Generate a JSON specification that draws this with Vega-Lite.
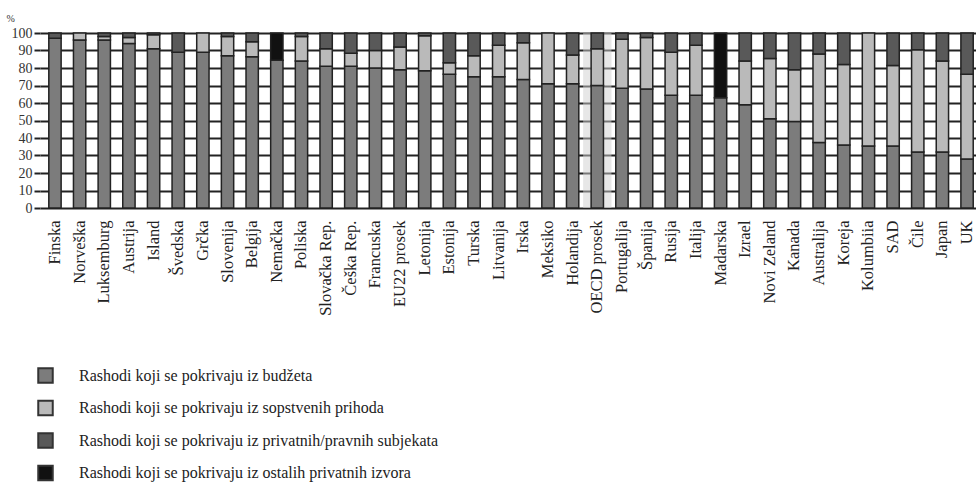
{
  "$schema": "https://vega.github.io/schema/vega-lite/v6.json",
  "autosize": {"type": "none"},
  "padding": {"left": 40, "top": 33, "right": 0, "bottom": 277},
  "width": 936,
  "height": 175,
  "background": "white",
  "config": {
    "view": {"stroke": null},
    "font": "Liberation Serif",
    "axis": {"labelFont": "Liberation Serif", "titleFont": "Liberation Serif"},
    "legend": {"labelFont": "Liberation Serif"}
  },
  "data": {
    "values": [
      {"z": "Finska", "k": "Rashodi koji se pokrivaju iz budžeta", "r": 1, "v": 97},
      {"z": "Finska", "k": "Rashodi koji se pokrivaju iz privatnih/pravnih  subjekata", "r": 3, "v": 3},
      {"z": "Norveška", "k": "Rashodi koji se pokrivaju iz budžeta", "r": 1, "v": 96},
      {"z": "Norveška", "k": "Rashodi koji se pokrivaju iz sopstvenih prihoda", "r": 2, "v": 4},
      {"z": "Luksemburg", "k": "Rashodi koji se pokrivaju iz budžeta", "r": 1, "v": 96},
      {"z": "Luksemburg", "k": "Rashodi koji se pokrivaju iz sopstvenih prihoda", "r": 2, "v": 2},
      {"z": "Luksemburg", "k": "Rashodi koji se pokrivaju iz privatnih/pravnih  subjekata", "r": 3, "v": 2},
      {"z": "Austrija", "k": "Rashodi koji se pokrivaju iz budžeta", "r": 1, "v": 94},
      {"z": "Austrija", "k": "Rashodi koji se pokrivaju iz sopstvenih prihoda", "r": 2, "v": 3.5},
      {"z": "Austrija", "k": "Rashodi koji se pokrivaju iz privatnih/pravnih  subjekata", "r": 3, "v": 2.5},
      {"z": "Island", "k": "Rashodi koji se pokrivaju iz budžeta", "r": 1, "v": 91},
      {"z": "Island", "k": "Rashodi koji se pokrivaju iz sopstvenih prihoda", "r": 2, "v": 8},
      {"z": "Island", "k": "Rashodi koji se pokrivaju iz privatnih/pravnih  subjekata", "r": 3, "v": 1},
      {"z": "Švedska", "k": "Rashodi koji se pokrivaju iz budžeta", "r": 1, "v": 89},
      {"z": "Švedska", "k": "Rashodi koji se pokrivaju iz privatnih/pravnih  subjekata", "r": 3, "v": 11},
      {"z": "Grčka", "k": "Rashodi koji se pokrivaju iz budžeta", "r": 1, "v": 89},
      {"z": "Grčka", "k": "Rashodi koji se pokrivaju iz sopstvenih prihoda", "r": 2, "v": 11},
      {"z": "Slovenija", "k": "Rashodi koji se pokrivaju iz budžeta", "r": 1, "v": 87},
      {"z": "Slovenija", "k": "Rashodi koji se pokrivaju iz sopstvenih prihoda", "r": 2, "v": 11},
      {"z": "Slovenija", "k": "Rashodi koji se pokrivaju iz privatnih/pravnih  subjekata", "r": 3, "v": 2},
      {"z": "Belgija", "k": "Rashodi koji se pokrivaju iz budžeta", "r": 1, "v": 86.5},
      {"z": "Belgija", "k": "Rashodi koji se pokrivaju iz sopstvenih prihoda", "r": 2, "v": 8.5},
      {"z": "Belgija", "k": "Rashodi koji se pokrivaju iz privatnih/pravnih  subjekata", "r": 3, "v": 5},
      {"z": "Nemačka", "k": "Rashodi koji se pokrivaju iz budžeta", "r": 1, "v": 84.5},
      {"z": "Nemačka", "k": "Rashodi koji se pokrivaju iz ostalih privatnih izvora", "r": 4, "v": 15.5},
      {"z": "Poliska", "k": "Rashodi koji se pokrivaju iz budžeta", "r": 1, "v": 84},
      {"z": "Poliska", "k": "Rashodi koji se pokrivaju iz sopstvenih prihoda", "r": 2, "v": 14},
      {"z": "Poliska", "k": "Rashodi koji se pokrivaju iz privatnih/pravnih  subjekata", "r": 3, "v": 2},
      {"z": "Slovačka Rep.", "k": "Rashodi koji se pokrivaju iz budžeta", "r": 1, "v": 81},
      {"z": "Slovačka Rep.", "k": "Rashodi koji se pokrivaju iz sopstvenih prihoda", "r": 2, "v": 10},
      {"z": "Slovačka Rep.", "k": "Rashodi koji se pokrivaju iz privatnih/pravnih  subjekata", "r": 3, "v": 9},
      {"z": "Češka Rep.", "k": "Rashodi koji se pokrivaju iz budžeta", "r": 1, "v": 81},
      {"z": "Češka Rep.", "k": "Rashodi koji se pokrivaju iz sopstvenih prihoda", "r": 2, "v": 7.5},
      {"z": "Češka Rep.", "k": "Rashodi koji se pokrivaju iz privatnih/pravnih  subjekata", "r": 3, "v": 11.5},
      {"z": "Francuska", "k": "Rashodi koji se pokrivaju iz budžeta", "r": 1, "v": 80},
      {"z": "Francuska", "k": "Rashodi koji se pokrivaju iz sopstvenih prihoda", "r": 2, "v": 10},
      {"z": "Francuska", "k": "Rashodi koji se pokrivaju iz privatnih/pravnih  subjekata", "r": 3, "v": 10},
      {"z": "EU22 prosek", "k": "Rashodi koji se pokrivaju iz budžeta", "r": 1, "v": 79},
      {"z": "EU22 prosek", "k": "Rashodi koji se pokrivaju iz sopstvenih prihoda", "r": 2, "v": 13},
      {"z": "EU22 prosek", "k": "Rashodi koji se pokrivaju iz privatnih/pravnih  subjekata", "r": 3, "v": 8},
      {"z": "Letonija", "k": "Rashodi koji se pokrivaju iz budžeta", "r": 1, "v": 78.5},
      {"z": "Letonija", "k": "Rashodi koji se pokrivaju iz sopstvenih prihoda", "r": 2, "v": 20},
      {"z": "Letonija", "k": "Rashodi koji se pokrivaju iz privatnih/pravnih  subjekata", "r": 3, "v": 1.5},
      {"z": "Estonija", "k": "Rashodi koji se pokrivaju iz budžeta", "r": 1, "v": 76.5},
      {"z": "Estonija", "k": "Rashodi koji se pokrivaju iz sopstvenih prihoda", "r": 2, "v": 6.5},
      {"z": "Estonija", "k": "Rashodi koji se pokrivaju iz privatnih/pravnih  subjekata", "r": 3, "v": 17},
      {"z": "Turska", "k": "Rashodi koji se pokrivaju iz budžeta", "r": 1, "v": 75},
      {"z": "Turska", "k": "Rashodi koji se pokrivaju iz sopstvenih prihoda", "r": 2, "v": 12},
      {"z": "Turska", "k": "Rashodi koji se pokrivaju iz privatnih/pravnih  subjekata", "r": 3, "v": 13},
      {"z": "Litvanija", "k": "Rashodi koji se pokrivaju iz budžeta", "r": 1, "v": 75},
      {"z": "Litvanija", "k": "Rashodi koji se pokrivaju iz sopstvenih prihoda", "r": 2, "v": 18},
      {"z": "Litvanija", "k": "Rashodi koji se pokrivaju iz privatnih/pravnih  subjekata", "r": 3, "v": 7},
      {"z": "Irska", "k": "Rashodi koji se pokrivaju iz budžeta", "r": 1, "v": 73.5},
      {"z": "Irska", "k": "Rashodi koji se pokrivaju iz sopstvenih prihoda", "r": 2, "v": 21},
      {"z": "Irska", "k": "Rashodi koji se pokrivaju iz privatnih/pravnih  subjekata", "r": 3, "v": 5.5},
      {"z": "Meksiko", "k": "Rashodi koji se pokrivaju iz budžeta", "r": 1, "v": 71},
      {"z": "Meksiko", "k": "Rashodi koji se pokrivaju iz sopstvenih prihoda", "r": 2, "v": 29},
      {"z": "Holandija", "k": "Rashodi koji se pokrivaju iz budžeta", "r": 1, "v": 71},
      {"z": "Holandija", "k": "Rashodi koji se pokrivaju iz sopstvenih prihoda", "r": 2, "v": 16.5},
      {"z": "Holandija", "k": "Rashodi koji se pokrivaju iz privatnih/pravnih  subjekata", "r": 3, "v": 12.5},
      {"z": "OECD prosek", "k": "Rashodi koji se pokrivaju iz budžeta", "r": 1, "v": 70},
      {"z": "OECD prosek", "k": "Rashodi koji se pokrivaju iz sopstvenih prihoda", "r": 2, "v": 21},
      {"z": "OECD prosek", "k": "Rashodi koji se pokrivaju iz privatnih/pravnih  subjekata", "r": 3, "v": 9},
      {"z": "Portugalija", "k": "Rashodi koji se pokrivaju iz budžeta", "r": 1, "v": 68.5},
      {"z": "Portugalija", "k": "Rashodi koji se pokrivaju iz sopstvenih prihoda", "r": 2, "v": 28},
      {"z": "Portugalija", "k": "Rashodi koji se pokrivaju iz privatnih/pravnih  subjekata", "r": 3, "v": 3.5},
      {"z": "Španija", "k": "Rashodi koji se pokrivaju iz budžeta", "r": 1, "v": 68},
      {"z": "Španija", "k": "Rashodi koji se pokrivaju iz sopstvenih prihoda", "r": 2, "v": 29.5},
      {"z": "Španija", "k": "Rashodi koji se pokrivaju iz privatnih/pravnih  subjekata", "r": 3, "v": 2.5},
      {"z": "Rusija", "k": "Rashodi koji se pokrivaju iz budžeta", "r": 1, "v": 64.5},
      {"z": "Rusija", "k": "Rashodi koji se pokrivaju iz sopstvenih prihoda", "r": 2, "v": 24.5},
      {"z": "Rusija", "k": "Rashodi koji se pokrivaju iz privatnih/pravnih  subjekata", "r": 3, "v": 11},
      {"z": "Italija", "k": "Rashodi koji se pokrivaju iz budžeta", "r": 1, "v": 64.5},
      {"z": "Italija", "k": "Rashodi koji se pokrivaju iz sopstvenih prihoda", "r": 2, "v": 28.5},
      {"z": "Italija", "k": "Rashodi koji se pokrivaju iz privatnih/pravnih  subjekata", "r": 3, "v": 7},
      {"z": "Madarska", "k": "Rashodi koji se pokrivaju iz budžeta", "r": 1, "v": 63},
      {"z": "Madarska", "k": "Rashodi koji se pokrivaju iz ostalih privatnih izvora", "r": 4, "v": 37},
      {"z": "Izrael", "k": "Rashodi koji se pokrivaju iz budžeta", "r": 1, "v": 59},
      {"z": "Izrael", "k": "Rashodi koji se pokrivaju iz sopstvenih prihoda", "r": 2, "v": 25},
      {"z": "Izrael", "k": "Rashodi koji se pokrivaju iz privatnih/pravnih  subjekata", "r": 3, "v": 16},
      {"z": "Novi Zeland", "k": "Rashodi koji se pokrivaju iz budžeta", "r": 1, "v": 51},
      {"z": "Novi Zeland", "k": "Rashodi koji se pokrivaju iz sopstvenih prihoda", "r": 2, "v": 34.5},
      {"z": "Novi Zeland", "k": "Rashodi koji se pokrivaju iz privatnih/pravnih  subjekata", "r": 3, "v": 14.5},
      {"z": "Kanada", "k": "Rashodi koji se pokrivaju iz budžeta", "r": 1, "v": 49.5},
      {"z": "Kanada", "k": "Rashodi koji se pokrivaju iz sopstvenih prihoda", "r": 2, "v": 29.5},
      {"z": "Kanada", "k": "Rashodi koji se pokrivaju iz privatnih/pravnih  subjekata", "r": 3, "v": 21},
      {"z": "Australija", "k": "Rashodi koji se pokrivaju iz budžeta", "r": 1, "v": 37.5},
      {"z": "Australija", "k": "Rashodi koji se pokrivaju iz sopstvenih prihoda", "r": 2, "v": 50.5},
      {"z": "Australija", "k": "Rashodi koji se pokrivaju iz privatnih/pravnih  subjekata", "r": 3, "v": 12},
      {"z": "Koreja", "k": "Rashodi koji se pokrivaju iz budžeta", "r": 1, "v": 36},
      {"z": "Koreja", "k": "Rashodi koji se pokrivaju iz sopstvenih prihoda", "r": 2, "v": 46},
      {"z": "Koreja", "k": "Rashodi koji se pokrivaju iz privatnih/pravnih  subjekata", "r": 3, "v": 18},
      {"z": "Kolumbiia", "k": "Rashodi koji se pokrivaju iz budžeta", "r": 1, "v": 35.5},
      {"z": "Kolumbiia", "k": "Rashodi koji se pokrivaju iz sopstvenih prihoda", "r": 2, "v": 64.5},
      {"z": "SAD", "k": "Rashodi koji se pokrivaju iz budžeta", "r": 1, "v": 35.5},
      {"z": "SAD", "k": "Rashodi koji se pokrivaju iz sopstvenih prihoda", "r": 2, "v": 46},
      {"z": "SAD", "k": "Rashodi koji se pokrivaju iz privatnih/pravnih  subjekata", "r": 3, "v": 18.5},
      {"z": "Čile", "k": "Rashodi koji se pokrivaju iz budžeta", "r": 1, "v": 32},
      {"z": "Čile", "k": "Rashodi koji se pokrivaju iz sopstvenih prihoda", "r": 2, "v": 58.5},
      {"z": "Čile", "k": "Rashodi koji se pokrivaju iz privatnih/pravnih  subjekata", "r": 3, "v": 9.5},
      {"z": "Japan", "k": "Rashodi koji se pokrivaju iz budžeta", "r": 1, "v": 32},
      {"z": "Japan", "k": "Rashodi koji se pokrivaju iz sopstvenih prihoda", "r": 2, "v": 52},
      {"z": "Japan", "k": "Rashodi koji se pokrivaju iz privatnih/pravnih  subjekata", "r": 3, "v": 16},
      {"z": "UK", "k": "Rashodi koji se pokrivaju iz budžeta", "r": 1, "v": 28},
      {"z": "UK", "k": "Rashodi koji se pokrivaju iz sopstvenih prihoda", "r": 2, "v": 48.5},
      {"z": "UK", "k": "Rashodi koji se pokrivaju iz privatnih/pravnih  subjekata", "r": 3, "v": 23.5}
    ]
  },
  "encoding": {
    "x": {
      "field": "z",
      "type": "nominal",
      "sort": null,
      "scale": {"paddingInner": 0.5, "paddingOuter": 0.235, "align": 0.76},
      "axis": {
        "title": null,
        "domain": false,
        "ticks": false,
        "labelAngle": -90,
        "labelAlign": "right",
        "labelBaseline": "middle",
        "labelFontSize": 16.5,
        "labelColor": "#222",
        "labelPadding": 12,
        "labelLimit": 200
      }
    }
  },
  "layer": [
    {
      "transform": [{"filter": "datum.r === 1"}],
      "mark": {"type": "bar", "color": "#cfcfcf", "width": {"band": 2.3}},
      "encoding": {
        "opacity": {
          "condition": {"test": "datum.z === 'OECD prosek'", "value": 0.5},
          "value": 0
        }
      }
    },
    {
      "mark": {"type": "bar", "stroke": "#222", "strokeWidth": 1.5},
      "encoding": {
        "y": {
          "field": "v",
          "type": "quantitative",
          "stack": "zero",
          "scale": {"domain": [0, 100], "nice": false},
          "axis": {
            "title": "%",
            "titleAngle": 0,
            "titleAlign": "left",
            "titleBaseline": "middle",
            "titleX": -34,
            "titleY": -15,
            "titleFontSize": 10,
            "titleFontWeight": "normal",
            "titleColor": "#333",
            "values": [0, 10, 20, 30, 40, 50, 60, 70, 80, 90, 100],
            "domain": false,
            "tickSize": 6,
            "tickColor": "#222",
            "tickWidth": 2,
            "grid": true,
            "gridColor": "#222",
            "gridWidth": 2,
            "labelFontSize": 14,
            "labelColor": "#333",
            "labelPadding": 2
          }
        },
        "color": {
          "field": "k",
          "type": "nominal",
          "scale": {
            "domain": [
              "Rashodi koji se pokrivaju iz budžeta",
              "Rashodi koji se pokrivaju iz sopstvenih prihoda",
              "Rashodi koji se pokrivaju iz privatnih/pravnih  subjekata",
              "Rashodi koji se pokrivaju iz ostalih privatnih izvora"
            ],
            "range": ["#7c7c7c", "#bababa", "#595959", "#111111"]
          },
          "legend": {
            "title": null,
            "orient": "none",
            "legendX": -3,
            "legendY": 334,
            "direction": "vertical",
            "symbolType": "square",
            "symbolSize": 210,
            "symbolStrokeColor": "#333",
            "symbolStrokeWidth": 2,
            "labelFontSize": 16,
            "labelColor": "#222",
            "labelOffset": 25,
            "labelLimit": 600,
            "rowPadding": 9.5
          }
        },
        "order": {"field": "r", "type": "quantitative"}
      }
    }
  ]
}
